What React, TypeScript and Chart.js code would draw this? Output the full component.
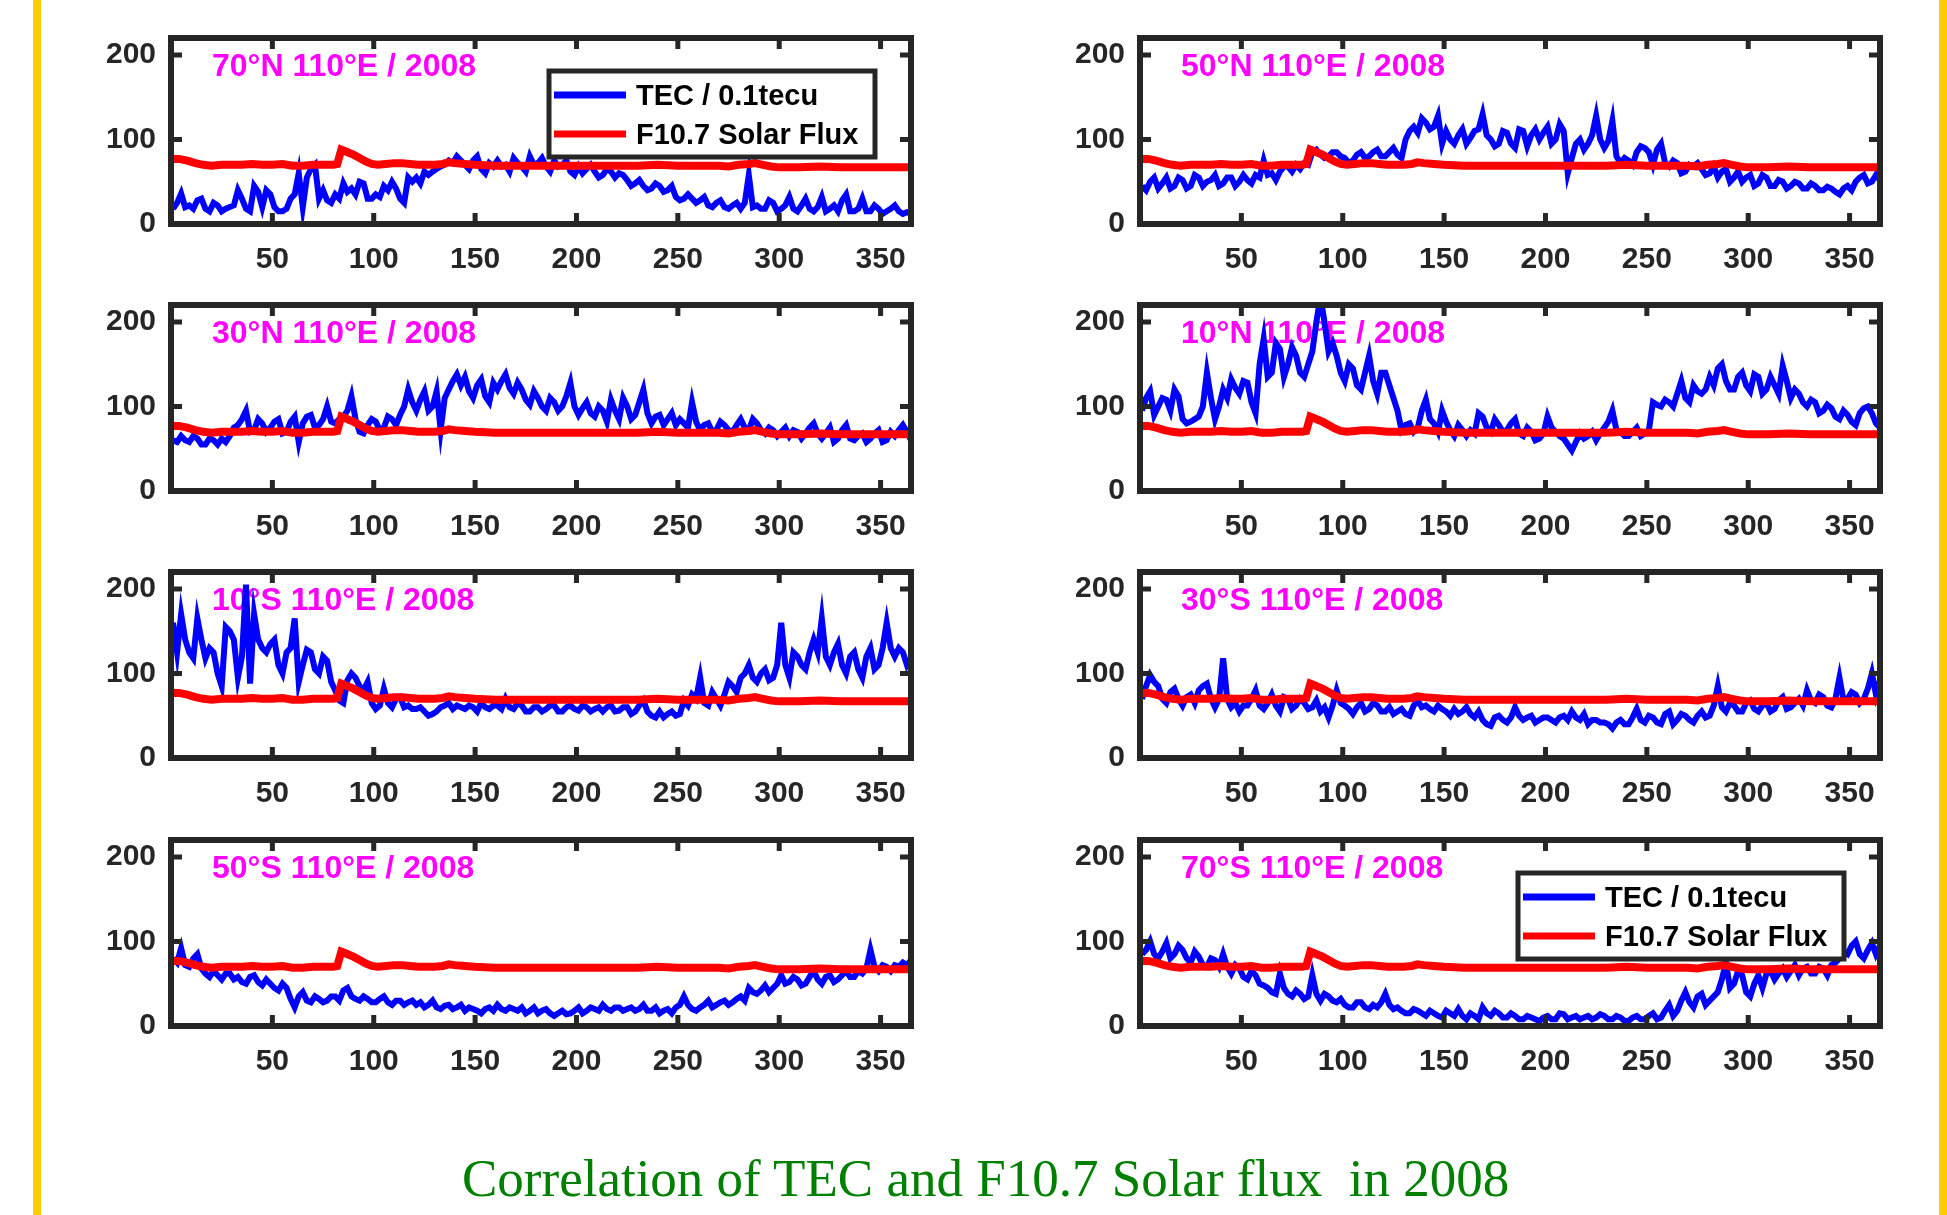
import React, { useEffect, useRef } from "react";
import { Chart, registerables } from "chart.js";
Chart.register(...registerables);

// ---------- axes ----------
const X_TICKS = [50, 100, 150, 200, 250, 300, 350];
const Y_TICKS = [0, 100, 200];
const X_MIN = 0;
const X_MAX = 365;
const Y_MIN = 0;
const Y_MAX = 220;

// ---------- data ----------
// TEC on days 1, 5, 9, ... 365 (main samples) and days 3, 7, 11, ... 363 (in-between samples)
const TEC_70N = [
  18, 36, 22, 28, 18, 25, 15, 20, 40, 18,
  45, 20, 35, 15, 18, 35, 20, 65, 30, 28,
  35, 48, 42, 50, 30, 35, 45, 50, 30, 55,
  55, 62, 62, 68, 75, 80, 70, 75, 65, 72,
  75, 70, 78, 68, 80, 72, 68, 75, 70, 62,
  68, 65, 62, 58, 62, 60, 52, 48, 45, 42,
  45, 40, 32, 30, 30, 28, 22, 25, 20, 22,
  18, 58, 22, 18, 25, 18, 32, 15, 30, 15,
  32, 18, 15, 35, 15, 30, 15, 18, 15, 22,
  12, 12,
];
const TEC_70N_MID = [
  25, 20, 18, 30, 15, 22, 18, 22, 30, 15,
  38, 40, 20, 15, 30, 60, 55, 70, 40, 25,
  30, 38, 35, 48, 30, 32, 40, 42, 25, 50,
  48, 58, 65, 70, 72, 75, 65, 80, 60, 68,
  68, 62, 72, 62, 70, 78, 62, 68, 75, 58,
  60, 70, 55, 65, 55, 58, 45, 52, 40, 48,
  38, 45, 28, 35, 25, 32, 20, 28, 18, 25,
  25, 20, 18, 28, 15, 22, 18, 22, 18, 20,
  15, 22, 28, 15, 18, 15, 22, 12, 18, 15,
  14,
];
const TEC_50N = [
  45, 50, 42, 55, 45, 52, 45, 55, 50, 58,
  48, 55, 50, 52, 58, 75, 60, 62, 68, 70,
  72, 85, 82, 80, 85, 78, 75, 85, 80, 88,
  80, 90, 78, 110, 108, 120, 115, 95, 100, 105,
  95, 110, 130, 100, 95, 108, 90, 110, 105, 100,
  115, 100, 110, 78, 100, 95, 128, 90, 122, 72,
  75, 85, 90, 70, 95, 68, 72, 62, 68, 65,
  60, 55, 65, 55, 50, 58, 48, 55, 45, 50,
  45, 48, 42, 45, 40, 42, 35, 45, 50, 58,
  50, 52,
];
const TEC_50N_MID = [
  40, 55, 48, 42, 55, 42, 58, 45, 52, 45,
  55, 45, 58, 48, 55, 58, 52, 68, 62, 65,
  70, 88, 78, 85, 80, 72, 82, 78, 85, 80,
  85, 82, 100, 115, 125, 112, 128, 110, 95, 112,
  102, 112, 105, 92, 110, 95, 112, 92, 112, 108,
  95, 118, 60, 95, 88, 105, 100, 98, 80, 78,
  70, 92, 85, 88, 72, 75, 60, 70, 72, 58,
  68, 62, 50, 62, 55, 45, 58, 45, 52, 42,
  50, 42, 48, 40, 44, 38, 42, 40, 55, 48,
  58,
];
const TEC_30N = [
  60, 65, 58, 62, 55, 60, 62, 65, 78, 95,
  72, 80, 75, 85, 70, 88, 80, 90, 78, 100,
  80, 88, 112, 70, 78, 82, 75, 85, 90, 120,
  95, 118, 100, 72, 120, 138, 135, 110, 132, 105,
  120, 138, 115, 120, 102, 110, 95, 105, 100, 128,
  90, 105, 88, 95, 108, 85, 100, 90, 120, 80,
  90, 85, 78, 80, 105, 72, 80, 72, 78, 70,
  85, 72, 80, 68, 72, 70, 65, 70, 68, 80,
  62, 75, 62, 78, 60, 68, 62, 72, 60, 65,
  78, 60,
];
const TEC_30N_MID = [
  58, 60, 65, 55, 62, 55, 58, 75, 85, 70,
  85, 70, 82, 68, 82, 58, 88, 75, 85, 82,
  85, 95, 85, 68, 85, 72, 88, 78, 100, 105,
  108, 95, 118, 110, 130, 125, 118, 125, 112, 128,
  130, 122, 128, 108, 118, 100, 110, 95, 112, 100,
  98, 92, 100, 82, 95, 110, 85, 105, 92, 88,
  78, 92, 85, 75, 82, 78, 70, 82, 72, 78,
  75, 85, 72, 75, 65, 75, 72, 62, 75, 68,
  68, 58, 72, 62, 65, 58, 68, 58, 70, 72,
  70,
];
const TEC_10N = [
  95, 118, 100, 108, 120, 85, 82, 88, 140, 85,
  120, 132, 115, 128, 92, 180, 140, 168, 150, 160,
  135, 165, 230, 165, 160, 130, 145, 120, 160, 115,
  140, 110, 72, 80, 75, 108, 80, 95, 72, 78,
  65, 68, 88, 70, 78, 72, 85, 65, 70, 62,
  88, 70, 62, 48, 68, 65, 60, 75, 95, 70,
  65, 75, 68, 105, 100, 105, 115, 110, 125, 115,
  135, 145, 130, 120, 140, 118, 135, 120, 125, 148,
  110, 115, 100, 105, 95, 98, 85, 90, 78, 98,
  92, 75,
];
const TEC_10N_MID = [
  110, 90, 110, 95, 112, 80, 85, 100, 110, 100,
  110, 122, 130, 105, 150, 135, 175, 135, 170, 140,
  150, 200, 200, 175, 140, 150, 125, 140, 130, 140,
  125, 95, 78, 70, 95, 85, 70, 82, 65, 72,
  72, 92, 75, 85, 70, 80, 68, 75, 60, 68,
  75, 65, 55, 58, 62, 70, 68, 82, 72, 65,
  70, 65, 72, 102, 108, 100, 130, 105, 118, 120,
  125, 150, 120, 135, 125, 138, 115, 135, 115, 130,
  120, 105, 108, 92, 102, 88, 95, 82, 92, 100,
  80,
];
const TEC_10S = [
  160, 170, 125, 165, 118, 125, 85, 150, 95, 205,
  170, 130, 135, 110, 125, 165, 110, 125, 100, 115,
  80, 65, 100, 85, 90, 58, 82, 60, 72, 62,
  58, 55, 52, 60, 65, 62, 58, 60, 65, 58,
  62, 70, 58, 62, 55, 60, 58, 62, 55, 62,
  56, 60, 58, 55, 62, 56, 60, 55, 68, 50,
  55, 52, 50, 68, 75, 95, 62, 70, 75, 85,
  95, 110, 90, 105, 95, 160, 95, 120, 105, 140,
  165, 110, 135, 100, 125, 95, 130, 110, 160, 120,
  125, 118,
];
const TEC_10S_MID = [
  125, 140, 118, 140, 130, 100, 155, 140, 120, 88,
  140, 125, 140, 100, 130, 90, 128, 105, 120, 90,
  68, 92, 95, 80, 65, 62, 65, 70, 60, 58,
  60, 50, 55, 62, 58, 60, 62, 55, 60, 62,
  58, 60, 65, 55, 60, 55, 62, 55, 60, 58,
  62, 55, 60, 60, 55, 60, 52, 62, 55, 48,
  48, 55, 52, 62, 70, 65, 78, 62, 90, 78,
  100, 95, 100, 92, 110, 110, 125, 110, 125, 125,
  120, 125, 110, 120, 105, 120, 105, 130, 130, 130,
  110,
];
const TEC_30S = [
  70, 98, 85, 65, 82, 62, 75, 80, 88, 60,
  118, 60, 55, 62, 80, 58, 75, 55, 70, 62,
  65, 60, 55, 48, 80, 62, 52, 65, 58, 62,
  55, 52, 58, 50, 68, 62, 55, 58, 50, 52,
  60, 48, 45, 38, 50, 42, 60, 45, 50, 45,
  48, 42, 50, 55, 45, 40, 45, 42, 35, 45,
  40, 58, 42, 48, 40, 55, 45, 50, 42, 55,
  50, 85, 55, 62, 55, 68, 55, 65, 58, 72,
  60, 70, 80, 65, 72, 60, 95, 70, 75, 70,
  100, 92,
];
const TEC_30S_MID = [
  85, 90, 70, 78, 70, 72, 65, 85, 70, 70,
  70, 65, 62, 70, 62, 65, 62, 72, 58, 70,
  58, 68, 60, 62, 65, 58, 60, 55, 65, 55,
  60, 55, 52, 62, 60, 58, 62, 55, 58, 55,
  52, 55, 40, 48, 45, 48, 50, 48, 42, 48,
  45, 48, 45, 48, 52, 45, 42, 40, 42, 40,
  48, 45, 50, 42, 52, 40, 52, 45, 50, 48,
  62, 60, 65, 55, 65, 58, 62, 55, 68, 58,
  65, 62, 68, 75, 62, 70, 68, 78, 65, 82,
  75,
];
const TEC_50S = [
  80, 92, 70, 85, 62, 65, 55, 62, 58, 50,
  60, 48, 50, 42, 45, 22, 40, 28, 32, 30,
  35, 42, 35, 30, 32, 28, 35, 25, 30, 28,
  25, 22, 30, 20, 25, 22, 18, 20, 15, 22,
  25, 18, 20, 22, 18, 15, 20, 12, 18, 15,
  22, 18, 20, 25, 18, 22, 20, 18, 25, 18,
  15, 20, 22, 35, 20, 22, 30, 25, 30, 28,
  35, 45, 38, 48, 45, 60, 52, 55, 50, 65,
  50, 60, 55, 65, 58, 62, 90, 65, 70, 72,
  75, 78,
];
const TEC_50S_MID = [
  75, 72, 80, 68, 58, 60, 62, 55, 52, 58,
  52, 55, 45, 50, 32, 35, 30, 35, 28, 35,
  30, 45, 32, 35, 28, 32, 28, 30, 25, 30,
  28, 25, 22, 24, 20, 25, 22, 18, 20, 18,
  20, 22, 18, 15, 22, 18, 15, 15, 14, 18,
  15, 22, 18, 20, 22, 18, 22, 20, 18, 22,
  18, 15, 25, 25, 18, 25, 22, 28, 25, 32,
  30, 40, 42, 40, 50, 50, 58, 48, 58, 55,
  58, 52, 60, 58, 65, 68, 70, 72, 65, 70,
  72,
];
const TEC_70S = [
  85, 100, 80, 98, 85, 90, 75, 82, 70, 78,
  85, 62, 68, 55, 60, 48, 40, 62, 38, 42,
  32, 60, 30, 35, 28, 25, 22, 28, 20, 22,
  38, 20, 18, 15, 18, 12, 15, 10, 15, 20,
  8, 12, 22, 12, 15, 10, 12, 8, 10, 6,
  12, 8, 14, 10, 8, 12, 10, 12, 8, 10,
  6, 12, 8, 15, 10, 25, 18, 40, 22, 38,
  30, 40, 75, 50, 60, 35, 60, 62, 55, 68,
  65, 60, 70, 62, 68, 72, 80, 85, 100, 80,
  98, 95,
];
const TEC_70S_MID = [
  90, 85, 88, 80, 95, 80, 88, 72, 80, 70,
  70, 72, 58, 65, 50, 45, 38, 45, 35, 38,
  35, 38, 38, 30, 32, 22, 28, 22, 25, 28,
  25, 22, 15, 20, 15, 18, 12, 18, 12, 12,
  15, 8, 15, 18, 10, 15, 8, 12, 8, 10,
  8, 15, 8, 12, 10, 8, 14, 8, 12, 6,
  10, 8, 12, 8, 18, 12, 30, 28, 35, 25,
  35, 55, 45, 65, 40, 50, 45, 65, 62, 58,
  72, 68, 62, 70, 60, 75, 88, 95, 85, 90,
  85,
];

// F10.7 solar flux (same for every panel)
const F107_DAYS = [
  1, 4, 8, 12, 16, 20, 25, 30, 35, 40, 45, 50, 55, 60, 65, 70, 75, 80, 82, 84,
  86, 88, 90, 93, 96, 99, 102, 106, 110, 114, 118, 122, 126, 130, 134, 137, 140, 145, 150, 160,
  170, 180, 190, 200, 210, 220, 230, 240, 250, 260, 270, 275, 280, 285, 288, 292, 296, 300, 310, 320,
  330, 340, 350, 360, 365,
];
const F107_VALUES = [
  77, 77, 75, 72, 70, 69, 70, 70, 70, 71, 70, 70, 71, 69, 69, 70, 70, 70, 71, 88,
  86, 84, 82, 78, 74, 71, 70, 71, 72, 72, 71, 70, 70, 70, 71, 73, 72, 71, 70, 69,
  69, 69, 69, 69, 69, 69, 69, 70, 69, 69, 69, 68, 70, 71, 72, 70, 68, 67, 67, 68,
  67, 67, 67, 67, 67,
];

const TITLES = [
  "70°N 110°E / 2008", "50°N 110°E / 2008",
  "30°N 110°E / 2008", "10°N 110°E / 2008",
  "10°S 110°E / 2008", "30°S 110°E / 2008",
  "50°S 110°E / 2008", "70°S 110°E / 2008",
];
const TEC_SERIES = [TEC_70N, TEC_50N, TEC_30N, TEC_10N, TEC_10S, TEC_30S, TEC_50S, TEC_70S];
const TEC_MID_SERIES = [
  TEC_70N_MID, TEC_50N_MID, TEC_30N_MID, TEC_10N_MID,
  TEC_10S_MID, TEC_30S_MID, TEC_50S_MID, TEC_70S_MID,
];
const LEGEND_PANELS = [0, 7];
const LEGEND_LABELS = ["TEC / 0.1tecu", "F10.7 Solar Flux"];
const CAPTION = "Correlation of TEC and F10.7 Solar flux  in 2008";

// ---------- layout ----------
const COL_LEFT = [171, 1140];
const COL_WIDTH = [740, 740];
const ROW_TOP = [38, 305, 572, 840];
const PLOT_H = 186;
const PAD_L = 100, PAD_R = 20, PAD_T = 20, PAD_B = 70;

const FRAME = "#262626";
const SANS = '"Liberation Sans", Arial, Helvetica, sans-serif';

function decorPlugin(title: string, legend: boolean) {
  return {
    id: "panelDecor",
    beforeDatasetsDraw(chart: any) {
      const { ctx, chartArea: a } = chart;
      ctx.save();
      ctx.font = `bold 32px ${SANS}`;
      ctx.fillStyle = "#FF00FF";
      ctx.textBaseline = "alphabetic";
      ctx.textAlign = "left";
      ctx.fillText(title, a.left + 41, a.top + 38);
      ctx.restore();
    },
    afterDatasetsDraw(chart: any) {
      const { ctx, chartArea: a, scales } = chart;
      ctx.save();
      if (legend) {
        const w = 326, h = 86;
        const R = a.right - 36;
        const L = R - w;
        const T = a.top + 33;
        ctx.fillStyle = "#ffffff";
        ctx.fillRect(L, T, w, h);
        ctx.lineWidth = 5;
        ctx.strokeStyle = FRAME;
        ctx.strokeRect(L, T, w, h);
        const rows = [
          { color: "#0000FF", y: T + 24, label: LEGEND_LABELS[0] },
          { color: "#FF0000", y: T + 63, label: LEGEND_LABELS[1] },
        ];
        ctx.font = `bold 29px ${SANS}`;
        ctx.textBaseline = "middle";
        ctx.textAlign = "left";
        for (const r of rows) {
          ctx.strokeStyle = r.color;
          ctx.lineWidth = 7;
          ctx.beginPath();
          ctx.moveTo(L + 5, r.y);
          ctx.lineTo(L + 77, r.y);
          ctx.stroke();
          ctx.fillStyle = "#000000";
          ctx.fillText(r.label, L + 87, r.y + 2);
        }
      }
      // frame
      ctx.strokeStyle = FRAME;
      ctx.lineWidth = 6;
      ctx.strokeRect(a.left, a.top, a.right - a.left, a.bottom - a.top);
      // inward ticks
      ctx.lineWidth = 5;
      ctx.lineCap = "butt";
      const tl = 11;
      for (const v of X_TICKS) {
        const px = scales.x.getPixelForValue(v);
        ctx.beginPath();
        ctx.moveTo(px, a.bottom);
        ctx.lineTo(px, a.bottom - tl);
        ctx.moveTo(px, a.top);
        ctx.lineTo(px, a.top + tl);
        ctx.stroke();
      }
      for (const v of Y_TICKS) {
        const py = scales.y.getPixelForValue(v);
        ctx.beginPath();
        ctx.moveTo(a.left, py);
        ctx.lineTo(a.left + tl, py);
        ctx.moveTo(a.right, py);
        ctx.lineTo(a.right - tl, py);
        ctx.stroke();
      }
      ctx.restore();
    },
  };
}

function Panel({ index }: { index: number }) {
  const ref = useRef<HTMLCanvasElement | null>(null);
  const col = index % 2;
  const row = Math.floor(index / 2);
  const W = COL_WIDTH[col] + PAD_L + PAD_R;
  const H = PLOT_H + PAD_T + PAD_B;

  useEffect(() => {
    if (!ref.current) return;
    const main = TEC_SERIES[index];
    const mid = TEC_MID_SERIES[index];
    const tecPoints: { x: number; y: number }[] = [];
    main.forEach((v, i) => {
      tecPoints.push({ x: 1 + 4 * i, y: v });
      if (i < mid.length) tecPoints.push({ x: 3 + 4 * i, y: mid[i] });
    });
    const fluxPoints = F107_VALUES.map((v, i) => ({ x: F107_DAYS[i], y: v }));
    const tickFont = { family: SANS, size: 30, weight: "bold" as const };
    const chart = new Chart(ref.current, {
      type: "line",
      data: {
        datasets: [
          {
            label: LEGEND_LABELS[1],
            data: fluxPoints,
            borderColor: "#FF0000",
            borderWidth: 8,
            pointRadius: 0,
            tension: 0,
            order: 0,
          },
          {
            label: LEGEND_LABELS[0],
            data: tecPoints,
            borderColor: "#0000FF",
            borderWidth: 6,
            pointRadius: 0,
            tension: 0,
            order: 1,
          },
        ],
      },
      options: {
        animation: false,
        responsive: false,
        maintainAspectRatio: false,
        devicePixelRatio: 1,
        layout: { padding: { left: 0, right: PAD_R, top: PAD_T, bottom: 0 } },
        plugins: { legend: { display: false }, tooltip: { enabled: false }, title: { display: false } },
        scales: {
          x: {
            type: "linear",
            min: X_MIN,
            max: X_MAX,
            grid: { display: false, drawTicks: false },
            border: { display: false },
            ticks: { font: tickFont, color: FRAME, padding: 18, maxRotation: 0, autoSkip: false },
            afterBuildTicks: (s: any) => {
              s.ticks = X_TICKS.map((v) => ({ value: v }));
            },
            afterFit: (s: any) => {
              s.height = PAD_B;
              s.paddingLeft = 0;
              s.paddingRight = 0;
              s.paddingTop = 0;
              s.paddingBottom = 0;
            },
          },
          y: {
            type: "linear",
            min: Y_MIN,
            max: Y_MAX,
            grid: { display: false, drawTicks: false },
            border: { display: false },
            ticks: { font: tickFont, color: FRAME, padding: 15, autoSkip: false },
            afterBuildTicks: (s: any) => {
              s.ticks = Y_TICKS.map((v) => ({ value: v }));
            },
            afterFit: (s: any) => {
              s.width = PAD_L;
              s.paddingTop = 0;
              s.paddingBottom = 0;
              s.paddingLeft = 0;
              s.paddingRight = 0;
            },
          },
        },
      },
      plugins: [decorPlugin(TITLES[index], LEGEND_PANELS.includes(index))],
    } as any);
    return () => chart.destroy();
  }, [index]);

  return (
    <canvas
      ref={ref}
      width={W}
      height={H}
      style={{
        position: "absolute",
        left: COL_LEFT[col] - PAD_L,
        top: ROW_TOP[row] - PAD_T,
        width: W,
        height: H,
      }}
    />
  );
}

export default function App() {
  return (
    <div
      style={{
        position: "absolute",
        left: 0,
        top: 0,
        width: 1947,
        height: 1215,
        background: "#ffffff",
        overflow: "hidden",
      }}
    >
      <div style={{ position: "absolute", left: 33, top: 0, width: 8, height: 1215, background: "#FFCC00" }} />
      <div style={{ position: "absolute", left: 1939, top: 0, width: 8, height: 1215, background: "#FFCC00" }} />
      {TITLES.map((_, i) => (
        <Panel key={i} index={i} />
      ))}
      <div
        style={{
          position: "absolute",
          left: 462,
          top: 1152,
          fontFamily: '"Liberation Serif", "Times New Roman", serif',
          fontSize: 53,
          lineHeight: 1,
          color: "#008000",
          whiteSpace: "pre",
        }}
      >
        {CAPTION}
      </div>
    </div>
  );
}
